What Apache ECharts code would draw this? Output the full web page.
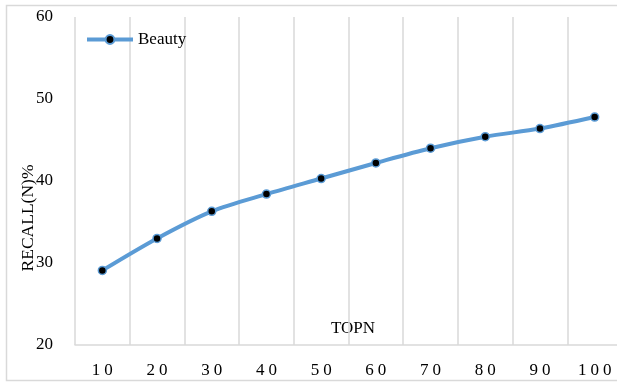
<!DOCTYPE html>
<html>
<head>
<meta charset="utf-8">
<script src="https://cdn.jsdelivr.net/npm/echarts@6/dist/echarts.min.js"></script>
<style>
  html, body { margin: 0; padding: 0; background: #fff; }
  #chart { width: 617px; height: 382px; }
</style>
</head>
<body>
<div id="chart"></div>
<script>
// Recall at different TOP-N cut-offs
const topN = ['10', '20', '30', '40', '50', '60', '70', '80', '90', '100'];
const beautyRecall = [29.1, 33.0, 36.3, 38.4, 40.3, 42.2, 44.0, 45.4, 46.4, 47.8];
const yTicks = { min: 20, max: 60, interval: 10 };

const serif = '"Liberation Serif", "DejaVu Serif", serif';
const chart = echarts.init(document.getElementById('chart'));

// spread the digits of the category labels a little apart
const spaced = v => String(v).split('').map(c => '{d|' + c + '}').join('');

chart.setOption({
  animation: false,
  backgroundColor: '#fff',
  graphic: [{
    type: 'rect',
    shape: { x: 6.5, y: 5.5, width: 640, height: 375 },
    style: { fill: 'none', stroke: '#d9d9d9', lineWidth: 1.5 },
    silent: true
  }, {
    // x-axis title sits inside the plot, just above the axis line
    type: 'text',
    x: 353, y: 329,
    style: {
      text: 'TOPN', fill: '#000',
      font: '17px "Liberation Serif", serif',
      align: 'center', verticalAlign: 'middle'
    },
    silent: true
  }, {
    type: 'text',
    x: 28, y: 218,
    rotation: Math.PI / 2,
    style: {
      text: 'RECALL(N)%', fill: '#000',
      font: '17.5px "Liberation Serif", serif',
      align: 'center', verticalAlign: 'middle'
    },
    silent: true
  }],
  grid: { left: 75, top: 17, width: 547, height: 328, outerBoundsMode: 'none', containLabel: false },
  legend: {
    left: 85, top: 31, padding: 0,
    itemWidth: 46, itemHeight: 11,
    lineStyle: { width: 4 },
    textStyle: { fontFamily: serif, fontSize: 17, color: '#000' },
    data: ['Beauty']
  },
  xAxis: {
    type: 'category',
    data: topN,
    boundaryGap: true,
    axisLine: { show: true, lineStyle: { color: '#d9d9d9', width: 1.5 } },
    axisTick: { show: false },
    axisLabel: {
      interval: 0,
      margin: 17,
      formatter: spaced,
      rich: { d: { fontFamily: serif, fontSize: 17, color: '#000', padding: [0, 2] } }
    },
    splitLine: { show: true, interval: 0, lineStyle: { color: '#d9d9d9', width: 1.5 } }
  },
  yAxis: {
    type: 'value',
    min: yTicks.min, max: yTicks.max, interval: yTicks.interval,
    axisLine: { show: false },
    axisTick: { show: false },
    axisLabel: { fontFamily: serif, fontSize: 17, color: '#000', margin: 22 },
    splitLine: { show: false }
  },
  series: [{
    name: 'Beauty',
    type: 'line',
    data: beautyRecall,
    smooth: 0.3,
    symbol: 'circle',
    symbolSize: 8,
    lineStyle: { color: '#5b9bd5', width: 4 },
    itemStyle: { color: '#000', borderColor: '#5b9bd5', borderWidth: 1.5 }
  }]
});
</script>
</body>
</html>
